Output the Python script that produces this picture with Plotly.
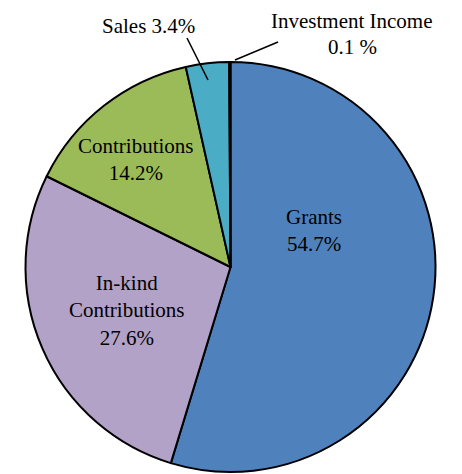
import plotly.graph_objects as go

categories = ["Grants", "In-kind Contributions", "Contributions", "Sales", "Investment Income"]
values = [54.7, 27.6, 14.2, 3.4, 0.1]
colors = ["#4F81BD", "#B3A2C7", "#9BBB59", "#4BACC6", "#F79646"]

W, H = 462, 474
OFF = 8  # page body margin offset
cx, cy, r = 230.5, 267, 205

def px(x):
    return (x - OFF) / W

def py(y):
    return 1 - (y - OFF) / H

fig = go.Figure(go.Pie(
    labels=categories, values=values, sort=False, direction="clockwise", rotation=0,
    marker=dict(colors=colors, line=dict(color="black", width=2)),
    textinfo="none", hoverinfo="label+percent", showlegend=False,
    domain=dict(x=[px(cx - r), px(cx + r)], y=[py(cy + r), py(cy - r)]),
))

font = dict(family="Liberation Serif, Times New Roman, serif", size=21, color="black")
labels = [
    ("Grants<br>54.7%", 314, 230, "middle"),
    ("In-kind<br>Contributions<br>27.6%", 127, 310, "middle"),
    ("Contributions<br>14.2%", 136, 159, "middle"),
    ("Sales 3.4%", 148, 26, "middle"),
    ("Investment Income", 352, 8, "top"),
    ("0.1 %", 352, 34, "top"),
]
for t, x, y, ya in labels:
    fig.add_annotation(text=t, x=px(x), y=py(y), xref="paper", yref="paper",
                       showarrow=False, font=font, align="center", borderpad=0,
                       xanchor="center", yanchor=ya)

for (x0, y0, x1, y1) in [(187, 38, 208, 80), (278, 42, 235, 60)]:
    fig.add_shape(type="line", xref="paper", yref="paper",
                  x0=px(x0), y0=py(y0), x1=px(x1), y1=py(y1),
                  line=dict(color="black", width=1.5))

fig.update_layout(width=W, height=H, margin=dict(l=0, r=0, t=0, b=0),
                  paper_bgcolor="white", plot_bgcolor="white")
fig.write_html("out.html")
